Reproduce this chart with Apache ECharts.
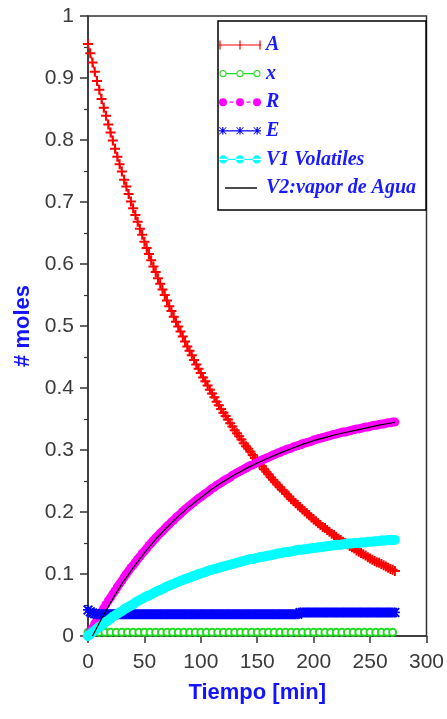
<!DOCTYPE html>
<html>
<head>
<meta charset="utf-8">
<script src="https://cdn.jsdelivr.net/npm/echarts@6/dist/echarts.min.js"></script>
<style>
  html, body { margin: 0; padding: 0; background: #fff; }
  #chart { width: 447px; height: 719px; }
</style>
</head>
<body>
<div id="chart"></div>
<script>
// Tiempo de muestreo [min] (cada 2 min)
const tiempo = [
  0, 2, 4, 6, 8, 10, 12, 14, 16, 18,
  20, 22, 24, 26, 28, 30, 32, 34, 36, 38,
  40, 42, 44, 46, 48, 50, 52, 54, 56, 58,
  60, 62, 64, 66, 68, 70, 72, 74, 76, 78,
  80, 82, 84, 86, 88, 90, 92, 94, 96, 98,
  100, 102, 104, 106, 108, 110, 112, 114, 116, 118,
  120, 122, 124, 126, 128, 130, 132, 134, 136, 138,
  140, 142, 144, 146, 148, 150, 152, 154, 156, 158,
  160, 162, 164, 166, 168, 170, 172, 174, 176, 178,
  180, 182, 184, 186, 188, 190, 192, 194, 196, 198,
  200, 202, 204, 206, 208, 210, 212, 214, 216, 218,
  220, 222, 224, 226, 228, 230, 232, 234, 236, 238,
  240, 242, 244, 246, 248, 250, 252, 254, 256, 258,
  260, 262, 264, 266, 268, 270, 272
];

// Moles de A
const molesA = [
  0.955, 0.940, 0.925, 0.910, 0.895, 0.881, 0.866, 0.852, 0.839, 0.825,
  0.812, 0.799, 0.786, 0.773, 0.761, 0.749, 0.736, 0.725, 0.713, 0.701,
  0.690, 0.679, 0.668, 0.657, 0.647, 0.636, 0.626, 0.616, 0.606, 0.596,
  0.587, 0.577, 0.568, 0.559, 0.550, 0.541, 0.532, 0.524, 0.515, 0.507,
  0.499, 0.491, 0.483, 0.475, 0.467, 0.460, 0.453, 0.445, 0.438, 0.431,
  0.424, 0.417, 0.411, 0.404, 0.397, 0.391, 0.385, 0.378, 0.372, 0.366,
  0.360, 0.355, 0.349, 0.343, 0.338, 0.332, 0.327, 0.322, 0.317, 0.311,
  0.306, 0.302, 0.297, 0.292, 0.287, 0.283, 0.278, 0.274, 0.269, 0.265,
  0.261, 0.256, 0.252, 0.248, 0.244, 0.240, 0.236, 0.233, 0.229, 0.225,
  0.221, 0.218, 0.214, 0.211, 0.208, 0.204, 0.201, 0.198, 0.195, 0.191,
  0.188, 0.185, 0.182, 0.179, 0.176, 0.174, 0.171, 0.168, 0.165, 0.163,
  0.160, 0.157, 0.155, 0.152, 0.150, 0.148, 0.145, 0.143, 0.141, 0.138,
  0.136, 0.134, 0.132, 0.130, 0.127, 0.125, 0.123, 0.121, 0.119, 0.118,
  0.116, 0.114, 0.112, 0.110, 0.108, 0.107, 0.105
];

// Moles de R
const molesR = [
  0.000, 0.007, 0.013, 0.020, 0.026, 0.033, 0.039, 0.045, 0.051, 0.057,
  0.062, 0.068, 0.073, 0.079, 0.084, 0.089, 0.095, 0.100, 0.105, 0.110,
  0.114, 0.119, 0.124, 0.128, 0.133, 0.137, 0.141, 0.146, 0.150, 0.154,
  0.158, 0.162, 0.166, 0.169, 0.173, 0.177, 0.180, 0.184, 0.187, 0.191,
  0.194, 0.197, 0.201, 0.204, 0.207, 0.210, 0.213, 0.216, 0.219, 0.222,
  0.224, 0.227, 0.230, 0.232, 0.235, 0.238, 0.240, 0.243, 0.245, 0.247,
  0.250, 0.252, 0.254, 0.256, 0.259, 0.261, 0.263, 0.265, 0.267, 0.269,
  0.271, 0.273, 0.275, 0.276, 0.278, 0.280, 0.282, 0.284, 0.285, 0.287,
  0.288, 0.290, 0.292, 0.293, 0.295, 0.296, 0.298, 0.299, 0.301, 0.302,
  0.303, 0.305, 0.306, 0.307, 0.308, 0.310, 0.311, 0.312, 0.313, 0.314,
  0.316, 0.317, 0.318, 0.319, 0.320, 0.321, 0.322, 0.323, 0.324, 0.325,
  0.326, 0.327, 0.328, 0.329, 0.329, 0.330, 0.331, 0.332, 0.333, 0.334,
  0.334, 0.335, 0.336, 0.337, 0.337, 0.338, 0.339, 0.340, 0.340, 0.341,
  0.342, 0.342, 0.343, 0.344, 0.344, 0.345, 0.345
];

// Moles de E
const molesE = [
  0.042, 0.039, 0.037, 0.036, 0.035, 0.035, 0.035, 0.035, 0.035, 0.035,
  0.035, 0.035, 0.035, 0.035, 0.035, 0.035, 0.035, 0.035, 0.035, 0.035,
  0.035, 0.035, 0.035, 0.035, 0.035, 0.035, 0.035, 0.035, 0.035, 0.035,
  0.035, 0.035, 0.035, 0.035, 0.035, 0.035, 0.035, 0.035, 0.035, 0.035,
  0.035, 0.035, 0.035, 0.035, 0.035, 0.035, 0.035, 0.035, 0.035, 0.035,
  0.035, 0.035, 0.035, 0.035, 0.035, 0.035, 0.035, 0.035, 0.035, 0.035,
  0.035, 0.035, 0.035, 0.035, 0.035, 0.035, 0.035, 0.035, 0.035, 0.035,
  0.035, 0.035, 0.035, 0.035, 0.035, 0.035, 0.035, 0.035, 0.035, 0.035,
  0.035, 0.035, 0.035, 0.035, 0.035, 0.035, 0.035, 0.035, 0.035, 0.035,
  0.035, 0.035, 0.035, 0.035, 0.038, 0.038, 0.038, 0.038, 0.038, 0.038,
  0.038, 0.038, 0.038, 0.038, 0.038, 0.038, 0.038, 0.038, 0.038, 0.038,
  0.038, 0.038, 0.038, 0.038, 0.038, 0.038, 0.038, 0.038, 0.038, 0.038,
  0.038, 0.038, 0.038, 0.038, 0.038, 0.038, 0.038, 0.038, 0.038, 0.038,
  0.038, 0.038, 0.038, 0.038, 0.038, 0.038, 0.038
];

// Moles de V1 (volatiles)
const molesV1 = [
  0.000, 0.003, 0.006, 0.009, 0.012, 0.015, 0.017, 0.020, 0.023, 0.025,
  0.028, 0.031, 0.033, 0.036, 0.038, 0.040, 0.043, 0.045, 0.047, 0.049,
  0.051, 0.054, 0.056, 0.058, 0.060, 0.062, 0.064, 0.065, 0.067, 0.069,
  0.071, 0.073, 0.074, 0.076, 0.078, 0.080, 0.081, 0.083, 0.084, 0.086,
  0.087, 0.089, 0.090, 0.092, 0.093, 0.094, 0.096, 0.097, 0.098, 0.100,
  0.101, 0.102, 0.103, 0.105, 0.106, 0.107, 0.108, 0.109, 0.110, 0.111,
  0.112, 0.113, 0.114, 0.115, 0.116, 0.117, 0.118, 0.119, 0.120, 0.121,
  0.122, 0.123, 0.124, 0.124, 0.125, 0.126, 0.127, 0.128, 0.128, 0.129,
  0.130, 0.130, 0.131, 0.132, 0.133, 0.133, 0.134, 0.135, 0.135, 0.136,
  0.136, 0.137, 0.138, 0.139, 0.139, 0.139, 0.140, 0.140, 0.141, 0.141,
  0.142, 0.142, 0.143, 0.143, 0.144, 0.144, 0.145, 0.145, 0.146, 0.146,
  0.147, 0.147, 0.147, 0.148, 0.148, 0.149, 0.149, 0.149, 0.150, 0.150,
  0.150, 0.151, 0.151, 0.151, 0.152, 0.152, 0.152, 0.153, 0.153, 0.153,
  0.154, 0.154, 0.154, 0.155, 0.155, 0.155, 0.155
];

// Moles de x (muestreo cada 5 min)
const tiempoX = [
  0, 5, 10, 15, 20, 25, 30, 35, 40, 45, 50, 55, 60, 65, 70, 75, 80, 85, 90, 95,
  100, 105, 110, 115, 120, 125, 130, 135, 140, 145, 150, 155, 160, 165, 170, 175,
  180, 185, 190, 195, 200, 205, 210, 215, 220, 225, 230, 235, 240, 245, 250, 255,
  260, 265, 270
];
const molesX = [
  0.006, 0.006, 0.006, 0.006, 0.006, 0.006, 0.006, 0.006, 0.006, 0.006, 0.006,
  0.006, 0.006, 0.006, 0.006, 0.006, 0.006, 0.006, 0.006, 0.006, 0.006, 0.006,
  0.006, 0.006, 0.006, 0.006, 0.006, 0.006, 0.006, 0.006, 0.006, 0.006, 0.006,
  0.006, 0.006, 0.006, 0.006, 0.006, 0.006, 0.006, 0.006, 0.006, 0.006, 0.006,
  0.006, 0.006, 0.006, 0.006, 0.006, 0.006, 0.006, 0.006, 0.006, 0.006, 0.006
];

// V2: vapor de agua
const tiempoV2 = [
  4, 10, 20, 30, 40, 50, 60, 70, 80, 90, 100, 110, 120, 130, 140, 150,
  160, 170, 180, 190, 200, 210, 220, 230, 240, 250, 260, 270, 272
];
const molesV2 = [
  0.000, 0.021, 0.054, 0.084, 0.110, 0.134, 0.156, 0.175, 0.193, 0.209,
  0.223, 0.237, 0.249, 0.260, 0.270, 0.279, 0.287, 0.295, 0.302, 0.309,
  0.315, 0.320, 0.325, 0.329, 0.333, 0.337, 0.341, 0.344, 0.345
];

// Ejes
const xTicks = { min: 0, max: 300, interval: 50 };
const yTicks = { min: 0, max: 1, interval: 0.1 };

const pares = (xs, ys) => xs.map((x, i) => [x, ys[i]]);

// Marcadores
const plusPath = 'path://M0,4h10v2H0z M4,0h2v10h-2z';
const starPath = 'path://M0,4.1h10v1.8H0z M4.1,0h1.8v10h-1.8z ' +
  'M0,1.3L1.3,0L10,8.7L8.7,10z M8.7,0L10,1.3L1.3,10L0,8.7z';

// Iconos de la leyenda (caja 42x14)
const box = 'M0,0M42,14';
const barH = (x0, x1) => `M${x0},6.4h${x1 - x0}v1.2h${x0 - x1}z`;
const dot = (c, r) => `M${c - r},7a${r},${r} 0 1,0 ${2 * r},0a${r},${r} 0 1,0 ${-2 * r},0z`;
const hole = (c, r) => `M${c - r},7a${r},${r} 0 1,1 ${2 * r},0a${r},${r} 0 1,1 ${-2 * r},0z`;
const vbar = (c) => `M${c - 0.6},2.5h1.2v9h-1.2z`;
const star = (c) => {
  const h = 3.8;
  return `M${c - 0.6},${7 - h}h1.2v${2 * h}h-1.2z ` +
    `M${c - h},${7 - h + 0.6}L${c - h + 0.6},${7 - h}L${c + h},${7 + h - 0.6}L${c + h - 0.6},${7 + h}z ` +
    `M${c + h - 0.6},${7 - h}L${c + h},${7 - h + 0.6}L${c - h + 0.6},${7 + h}L${c - h},${7 + h - 0.6}z`;
};
const iconA = 'path://' + box + barH(0, 42) + vbar(1) + vbar(21) + vbar(41);
const iconX = 'path://' + box + dot(4, 3.6) + hole(4, 2.5) + dot(21, 3.6) + hole(21, 2.5) +
  dot(38, 3.6) + hole(38, 2.5) + barH(7.6, 17.4) + barH(24.6, 34.4);
const iconR = 'path://' + box + dot(4, 4) + dot(21, 4) + dot(38, 4) + barH(10.5, 14.5) + barH(27.5, 31.5);
const iconE = 'path://' + box + barH(0, 42) + star(3.8) + star(21) + star(38.2);
const iconV1 = 'path://' + box + barH(0, 42) + dot(4.2, 4.2) + dot(21, 4.2) + dot(37.8, 4.2);
const iconV2 = 'path://' + box + 'M6,6.3h32v1.4H6z';

const axisColor = '#333';
const labelStyle = { color: '#3a3a3a', fontSize: 21, fontFamily: 'Liberation Sans' };
const nameStyle = { color: '#1414ff', fontSize: 22, fontWeight: 'bold', fontFamily: 'Liberation Sans' };

const chart = echarts.init(document.getElementById('chart'), null, { renderer: 'canvas' });
chart.setOption({
  animation: false,
  backgroundColor: '#fff',
  grid: {
    left: 88, right: 19, top: 16, bottom: 83,
    show: true, borderColor: axisColor, borderWidth: 1.5, backgroundColor: 'transparent'
  },
  xAxis: {
    type: 'value',
    min: xTicks.min, max: xTicks.max, interval: xTicks.interval,
    name: 'Tiempo [min]', nameLocation: 'middle', nameGap: 46, nameTextStyle: nameStyle,
    axisLine: { show: true, lineStyle: { color: axisColor, width: 1.5 } },
    axisTick: { show: true, length: 7, lineStyle: { color: axisColor, width: 1.5 } },
    splitLine: { show: false },
    axisLabel: Object.assign({ margin: 16 }, labelStyle)
  },
  yAxis: {
    type: 'value',
    min: yTicks.min, max: yTicks.max, interval: yTicks.interval,
    name: '# moles', nameLocation: 'middle', nameGap: 54, nameTextStyle: nameStyle,
    axisLine: { show: true, lineStyle: { color: axisColor, width: 1.5 } },
    axisTick: { show: true, length: 8, lineStyle: { color: axisColor, width: 1.5 } },
    minorTick: { show: true, splitNumber: 2, length: 4, lineStyle: { color: axisColor, width: 1.2 } },
    splitLine: { show: false },
    minorSplitLine: { show: false },
    axisLabel: Object.assign({ margin: 14 }, labelStyle)
  },
  legend: {
    orient: 'vertical',
    left: 218, top: 21,
    padding: [14, 10, 12, 1],
    itemWidth: 42, itemHeight: 14, itemGap: 8.6,
    symbolKeepAspect: true,
    borderColor: '#000', borderWidth: 1.5, backgroundColor: '#fff',
    selectedMode: false,
    itemStyle: { borderWidth: 0 },
    textStyle: {
      color: '#1a1aff', fontFamily: 'Liberation Serif', fontSize: 20,
      fontWeight: 'bold', fontStyle: 'italic'
    },
    data: [
      { name: 'A', icon: iconA },
      { name: 'x', icon: iconX },
      { name: 'R', icon: iconR },
      { name: 'E', icon: iconE },
      { name: 'V1 Volatiles', icon: iconV1 },
      { name: 'V2:vapor de Agua', icon: iconV2 }
    ]
  },
  series: [
    {
      name: 'A', type: 'line', data: pares(tiempo, molesA),
      symbol: plusPath, symbolSize: 10, color: '#ff0000',
      itemStyle: { color: '#ff0000', borderWidth: 0 },
      lineStyle: { color: '#ff0000', width: 1 }
    },
    {
      name: 'x', type: 'line', data: pares(tiempoX, molesX),
      symbol: 'emptyCircle', symbolSize: 7, color: '#22dd22',
      itemStyle: { color: '#22dd22', borderWidth: 1.4 },
      lineStyle: { color: '#22dd22', width: 1 }
    },
    {
      name: 'R', type: 'line', data: pares(tiempo, molesR),
      symbol: 'circle', symbolSize: 9, color: '#ff00ff',
      itemStyle: { color: '#ff00ff', borderWidth: 0 },
      lineStyle: { color: '#ff00ff', width: 1, type: 'dashed' }
    },
    {
      name: 'E', type: 'line', data: pares(tiempo, molesE),
      symbol: starPath, symbolSize: 10, color: '#0000ff',
      itemStyle: { color: '#0000ff', borderWidth: 0 },
      lineStyle: { color: '#0000ff', width: 1 }
    },
    {
      name: 'V1 Volatiles', type: 'line', data: pares(tiempo, molesV1),
      symbol: 'circle', symbolSize: 10, color: '#00ffff',
      itemStyle: { color: '#00ffff', borderWidth: 0 },
      lineStyle: { color: '#00ffff', width: 1 }
    },
    {
      name: 'V2:vapor de Agua', type: 'line', data: pares(tiempoV2, molesV2),
      z: 5,
      symbol: 'none', color: '#000000',
      itemStyle: { color: '#000000' },
      lineStyle: { color: '#000000', width: 1.2 }
    }
  ]
});
</script>
</body>
</html>
